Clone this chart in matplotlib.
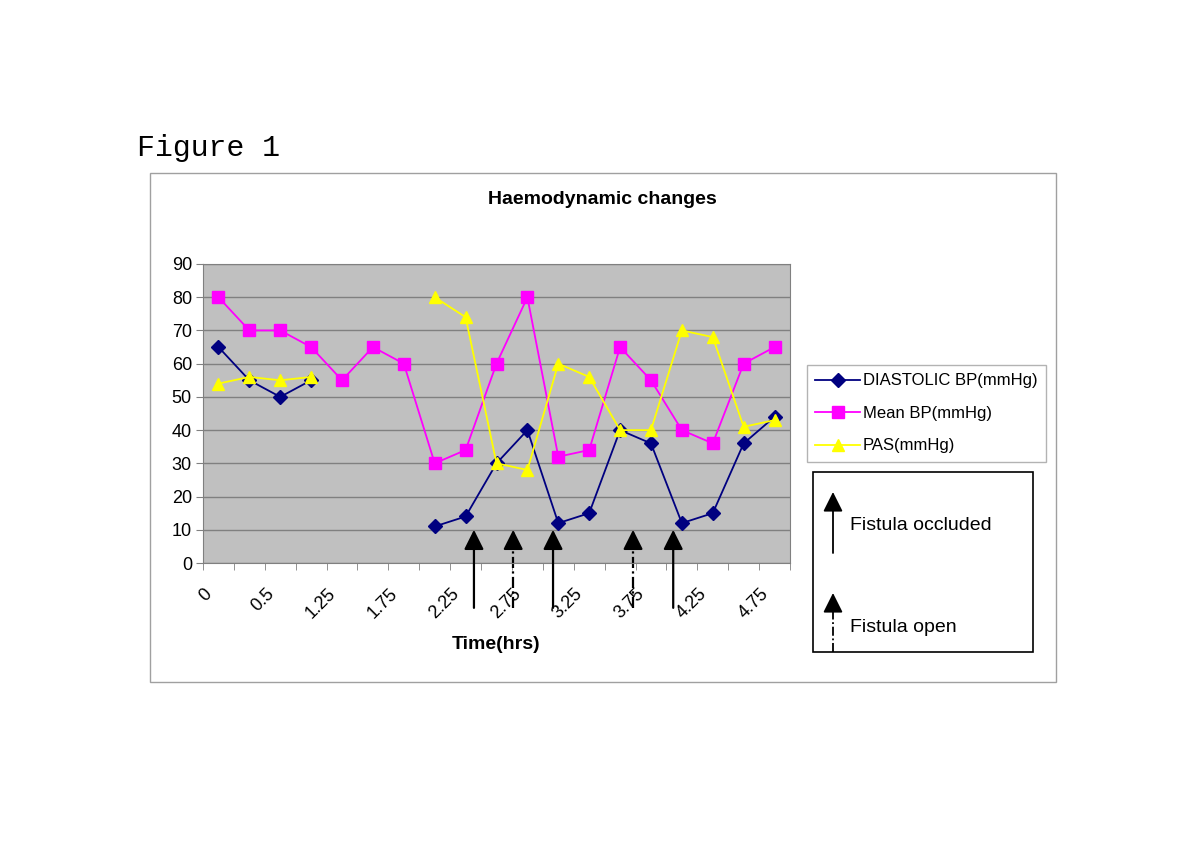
import numpy as np
import matplotlib
matplotlib.use("Agg")
import matplotlib.pyplot as plt
from matplotlib.patches import Rectangle, FancyArrowPatch
from matplotlib.lines import Line2D
from matplotlib.transforms import ScaledTranslation

# ---- data ----
time_labels = ["0", "0.25", "0.5", "1", "1.25", "1.5", "1.75", "2", "2.25", "2.5",
               "2.75", "3", "3.25", "3.5", "3.75", "4", "4.25", "4.5", "4.75"]
diastolic = [65, 55, 50, 55, None, None, None, 11, 14, 30, 40, 12, 15, 40, 36, 12, 15, 36, 44]
mean_bp = [80, 70, 70, 65, 55, 65, 60, 30, 34, 60, 80, 32, 34, 65, 55, 40, 36, 60, 65]
pas = [54, 56, 55, 56, None, None, None, 80, 74, 30, 28, 60, 56, 40, 40, 70, 68, 41, 43]
series_names = ["DIASTOLIC BP(mmHg)", "Mean BP(mmHg)", "PAS(mmHg)"]
# arrow positions (category units)
occluded_at = [8.27, 10.83, 14.72]
open_at = [9.54, 13.42]

def arr(v):
    return np.array([np.nan if x is None else x for x in v], dtype=float)

W, H = 1200, 851
fig = plt.figure(figsize=(12, 8.51), dpi=100)
plt.rcParams['font.family'] = ['Liberation Sans', 'DejaVu Sans']

def fx(px):
    return px / W

def fy(py):
    return 1 - py / H

DASHDOT = (0, (5, 1.5, 1, 1.5))
HEAD = "-|>,head_length=0.6,head_width=0.3"

# outer chart border
fig.patches.append(Rectangle((fx(150), fy(682)), fx(1056) - fx(150), fy(173) - fy(682),
                             transform=fig.transFigure, fill=False, edgecolor="#a0a0a0", lw=1))

fig.text(fx(137), fy(148), "Figure 1", family=["Liberation Mono", "DejaVu Sans Mono"],
         fontsize=21.5, ha="left", va="center")
fig.text(fx(602), fy(200), "Haemodynamic changes", fontsize=14, fontweight="bold",
         ha="center", va="center")

ax = fig.add_axes([fx(203), fy(563), fx(790) - fx(203), fy(264) - fy(563)])
ax.set_facecolor("#c0c0c0")
x = np.arange(len(time_labels))

ax.plot(x, arr(diastolic), color="#000080", marker="D", ms=7, lw=1.3, label=series_names[0])
ax.plot(x, arr(mean_bp), color="#ff00ff", marker="s", ms=8.5, lw=1.3, label=series_names[1])
ax.plot(x, arr(pas), color="#ffff00", marker="^", ms=9, lw=1.3, label=series_names[2])

ax.set_xlim(-0.5, len(time_labels) - 0.5)
ax.set_ylim(0, 90)
ax.set_yticks(np.arange(0, 91, 10))
ax.yaxis.grid(True, color="#808080", lw=1)
ax.set_axisbelow(True)
for s in ax.spines.values():
    s.set_color("#808080")
ax.tick_params(axis="y", labelsize=13, length=5, color="#808080", pad=3)

ax.set_xticks(x[::2])
ax.set_xticklabels(time_labels[::2], rotation=45, ha="right", rotation_mode="anchor")
ax.set_xticks(np.arange(-0.5, len(time_labels), 1), minor=True)
ax.tick_params(axis="x", which="major", length=0, labelsize=13, pad=16)
ax.tick_params(axis="x", which="minor", length=5, color="#808080")
shift = ScaledTranslation(-0.15, 0, fig.dpi_scale_trans)
for lab in ax.get_xticklabels():
    lab.set_transform(lab.get_transform() + shift)

ax.set_xlabel("Time(hrs)", fontsize=14, fontweight="bold", labelpad=10)

# arrows on chart
for xa in occluded_at:
    ax.annotate("", xy=(xa, 10), xytext=(xa, -13.5), annotation_clip=False,
                arrowprops=dict(arrowstyle=HEAD, mutation_scale=20, color="black", lw=1.6,
                                shrinkA=0, shrinkB=0))
for xa in open_at:
    ax.plot([xa, xa], [-13.5, 5.5], color="black", lw=1.6, linestyle=DASHDOT, clip_on=False)
    ax.annotate("", xy=(xa, 10), xytext=(xa, 5), annotation_clip=False,
                arrowprops=dict(arrowstyle=HEAD, mutation_scale=20, color="black", lw=1.6,
                                shrinkA=0, shrinkB=0))

leg = fig.legend(loc="upper left", bbox_to_anchor=(fx(807), fy(365)), fontsize=12,
                 frameon=True, fancybox=False, edgecolor="#a0a0a0", borderaxespad=0,
                 handlelength=2.7, handletextpad=0.15, labelspacing=1.05, borderpad=0.5)
leg.get_frame().set_linewidth(1)

# fistula legend box
fig.patches.append(Rectangle((fx(813), fy(652)), fx(1033) - fx(813), fy(472) - fy(652),
                             transform=fig.transFigure, fill=False, edgecolor="black", lw=1.2))
fig.add_artist(FancyArrowPatch(
    (fx(833), fy(553)), (fx(833), fy(492)), transform=fig.transFigure,
    arrowstyle=HEAD, mutation_scale=20, color="black", lw=1.3, shrinkA=0, shrinkB=0))
fig.add_artist(Line2D([fx(833), fx(833)], [fy(652), fy(605)], transform=fig.transFigure,
                      color="black", lw=1.3, linestyle=DASHDOT))
fig.add_artist(FancyArrowPatch(
    (fx(833), fy(610)), (fx(833), fy(593)), transform=fig.transFigure,
    arrowstyle=HEAD, mutation_scale=20, color="black", lw=1.3, shrinkA=0, shrinkB=0))
fig.text(fx(850), fy(525), "Fistula occluded", fontsize=14, ha="left", va="center")
fig.text(fx(850), fy(627), "Fistula open", fontsize=14, ha="left", va="center")

fig.savefig("out.png", dpi=100, facecolor="white")
